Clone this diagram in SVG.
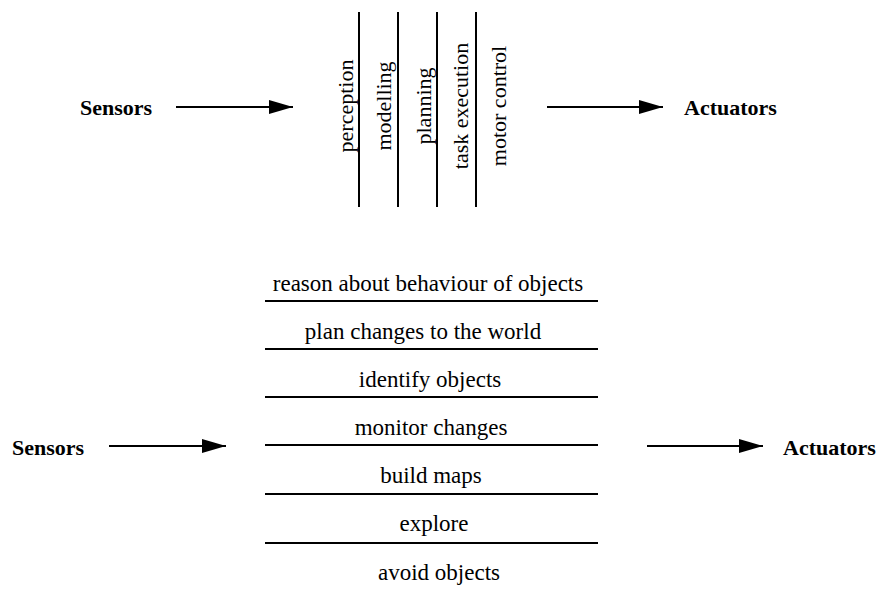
<svg xmlns="http://www.w3.org/2000/svg" width="881" height="598" viewBox="0 0 881 598">
<style>
text{font-family:'Liberation Serif','DejaVu Serif','Times New Roman',serif;fill:#000}
.b{font-weight:bold;font-size:22px}
.t{font-size:22px;text-anchor:middle}
.m{font-size:23px;text-anchor:middle}
.ln{stroke:#000;stroke-width:2;fill:none}
</style>
<defs>
<marker id="ah" markerUnits="userSpaceOnUse" markerWidth="25" markerHeight="15" refX="24" refY="7" orient="auto">
<path d="M0,0 L24,7 L0,14 z" fill="#000"/>
</marker>
</defs>
<rect width="881" height="598" fill="#fff"/>
<g id="top-sensors"><text class="b" x="80" y="115" font-family="Liberation Serif, serif">Sensors</text></g>
<g id="top-actuators"><text class="b" x="684" y="115" font-family="Liberation Serif, serif">Actuators</text></g>
<g id="top-layers">
<line class="ln" x1="359" y1="12" x2="359" y2="207"/>
<line class="ln" x1="398" y1="12" x2="398" y2="207"/>
<line class="ln" x1="437" y1="12" x2="437" y2="207"/>
<line class="ln" x1="476" y1="12" x2="476" y2="207"/>
<text class="t" font-family="Liberation Serif, serif" transform="translate(353,106) rotate(-90)">perception</text>
<text class="t" font-family="Liberation Serif, serif" transform="translate(391,106) rotate(-90)">modelling</text>
<text class="t" font-family="Liberation Serif, serif" transform="translate(431,106) rotate(-90)">planning</text>
<text class="t" font-family="Liberation Serif, serif" transform="translate(468,106) rotate(-90)">task execution</text>
<text class="t" font-family="Liberation Serif, serif" transform="translate(506,106) rotate(-90)">motor control</text>
</g>
<g id="bottom-sensors"><text class="b" x="12" y="455" font-family="Liberation Serif, serif">Sensors</text></g>
<g id="bottom-actuators"><text class="b" x="783" y="455" font-family="Liberation Serif, serif">Actuators</text></g>
<g id="bottom-layers">
<line class="ln" x1="265" y1="301" x2="598" y2="301"/>
<line class="ln" x1="265" y1="349" x2="598" y2="349"/>
<line class="ln" x1="265" y1="397" x2="598" y2="397"/>
<line class="ln" x1="265" y1="445" x2="598" y2="445"/>
<line class="ln" x1="265" y1="494" x2="598" y2="494"/>
<line class="ln" x1="265" y1="543" x2="598" y2="543"/>
<text class="m" font-family="Liberation Serif, serif" x="428" y="291">reason about behaviour of objects</text>
<text class="m" font-family="Liberation Serif, serif" x="423" y="339">plan changes to the world</text>
<text class="m" font-family="Liberation Serif, serif" x="430" y="387">identify objects</text>
<text class="m" font-family="Liberation Serif, serif" x="431" y="435">monitor changes</text>
<text class="m" font-family="Liberation Serif, serif" x="431" y="483">build maps</text>
<text class="m" font-family="Liberation Serif, serif" x="434" y="531">explore</text>
<text class="m" font-family="Liberation Serif, serif" x="439" y="580">avoid objects</text>
</g>
<g id="connectors">
<line class="ln" x1="176" y1="107" x2="293" y2="107" marker-end="url(#ah)"/>
<line class="ln" x1="547" y1="107" x2="663" y2="107" marker-end="url(#ah)"/>
<line class="ln" x1="109" y1="446" x2="226" y2="446" marker-end="url(#ah)"/>
<line class="ln" x1="647" y1="446" x2="763" y2="446" marker-end="url(#ah)"/>
</g>
</svg>
